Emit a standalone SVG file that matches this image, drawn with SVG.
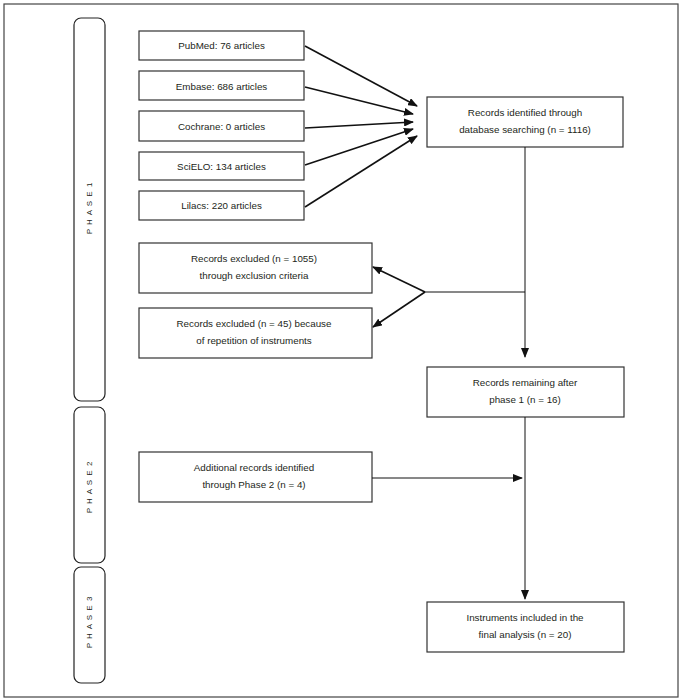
<svg xmlns="http://www.w3.org/2000/svg" width="686" height="700" viewBox="0 0 686 700">
<defs>
<style>
.box{fill:#fff;stroke:#333;stroke-width:1.2}
.phase{fill:#fff;stroke:#222;stroke-width:1.2}
.t{font-family:"Liberation Sans",Arial,sans-serif;font-size:9.8px;fill:#231f20;text-anchor:middle}
.p{font-family:"Liberation Sans",Arial,sans-serif;font-size:8px;fill:#231f20;text-anchor:middle;letter-spacing:1px}
.c{fill:none;stroke:#111;stroke-width:1}
.cb{fill:none;stroke:#111;stroke-width:1.6}
</style>
<marker id="ah" markerWidth="10" markerHeight="8" refX="9" refY="4" orient="auto" markerUnits="userSpaceOnUse">
<path d="M0,0 L10,4 L0,8 Z" fill="#111"/>
</marker>
</defs>
<rect x="0" y="0" width="686" height="700" fill="#fff"/>
<rect x="4" y="4" width="674" height="693" fill="#fff" stroke="#444" stroke-width="1.2"/>

<g id="phase1"><rect class="phase" x="74" y="18" width="31" height="383" rx="7"/><text class="p" transform="translate(92,208) rotate(-90)">P H A S E 1</text></g>
<g id="phase2"><rect class="phase" x="74" y="407" width="31" height="156" rx="7"/><text class="p" transform="translate(92,487) rotate(-90)">P H A S E 2</text></g>
<g id="phase3"><rect class="phase" x="74" y="567" width="31" height="116" rx="7"/><text class="p" transform="translate(92,622) rotate(-90)">P H A S E 3</text></g>

<g id="pubmed"><rect class="box" x="139" y="31" width="165" height="29"/><text class="t" x="221.5" y="49">PubMed: 76 articles</text></g>
<g id="embase"><rect class="box" x="139" y="71" width="165" height="29"/><text class="t" x="221.5" y="90">Embase: 686 articles</text></g>
<g id="cochrane"><rect class="box" x="139" y="111" width="165" height="30"/><text class="t" x="221.5" y="130">Cochrane: 0 articles</text></g>
<g id="scielo"><rect class="box" x="139" y="152" width="165" height="28"/><text class="t" x="221.5" y="170">SciELO: 134 articles</text></g>
<g id="lilacs"><rect class="box" x="139" y="191" width="165" height="29"/><text class="t" x="221.5" y="209">Lilacs: 220 articles</text></g>

<g id="identified"><rect class="box" x="427" y="97" width="196" height="50"/><text class="t" x="525" y="116">Records identified through</text><text class="t" x="525" y="133">database searching (n = 1116)</text></g>

<g id="excluded1"><rect class="box" x="139" y="243" width="233" height="50"/><text class="t" x="254" y="262">Records excluded (n = 1055)</text><text class="t" x="254" y="279">through exclusion criteria</text></g>
<g id="excluded2"><rect class="box" x="139" y="308" width="233" height="50"/><text class="t" x="254" y="327">Records excluded (n = 45) because</text><text class="t" x="254" y="344">of repetition of instruments</text></g>

<g id="remaining"><rect class="box" x="427" y="367" width="197" height="50"/><text class="t" x="525" y="386">Records remaining after</text><text class="t" x="525" y="403">phase 1 (n = 16)</text></g>

<g id="additional"><rect class="box" x="139" y="452" width="233" height="50"/><text class="t" x="254" y="471">Additional records identified</text><text class="t" x="254" y="488">through Phase 2 (n = 4)</text></g>

<g id="included"><rect class="box" x="427" y="602" width="197" height="50"/><text class="t" x="525" y="621">Instruments included in the</text><text class="t" x="525" y="638">final analysis (n = 20)</text></g>

<g id="connectors">
<line class="cb" x1="305" y1="46" x2="417" y2="106" marker-end="url(#ah)"/>
<line class="cb" x1="305" y1="87" x2="413" y2="114" marker-end="url(#ah)"/>
<line class="cb" x1="305" y1="128" x2="413" y2="122" marker-end="url(#ah)"/>
<line class="cb" x1="305" y1="165" x2="413" y2="129" marker-end="url(#ah)"/>
<line class="cb" x1="305" y1="207" x2="417" y2="136" marker-end="url(#ah)"/>
<line class="c" x1="525" y1="147" x2="525" y2="357" marker-end="url(#ah)"/>
<line class="c" x1="525" y1="292" x2="425" y2="292"/>
<line class="cb" x1="425" y1="292" x2="373" y2="267" marker-end="url(#ah)"/>
<line class="cb" x1="425" y1="292" x2="373" y2="327" marker-end="url(#ah)"/>
<line class="c" x1="525" y1="417" x2="525" y2="599" marker-end="url(#ah)"/>
<line class="c" x1="372" y1="478" x2="522" y2="478" marker-end="url(#ah)"/>
</g>
</svg>
